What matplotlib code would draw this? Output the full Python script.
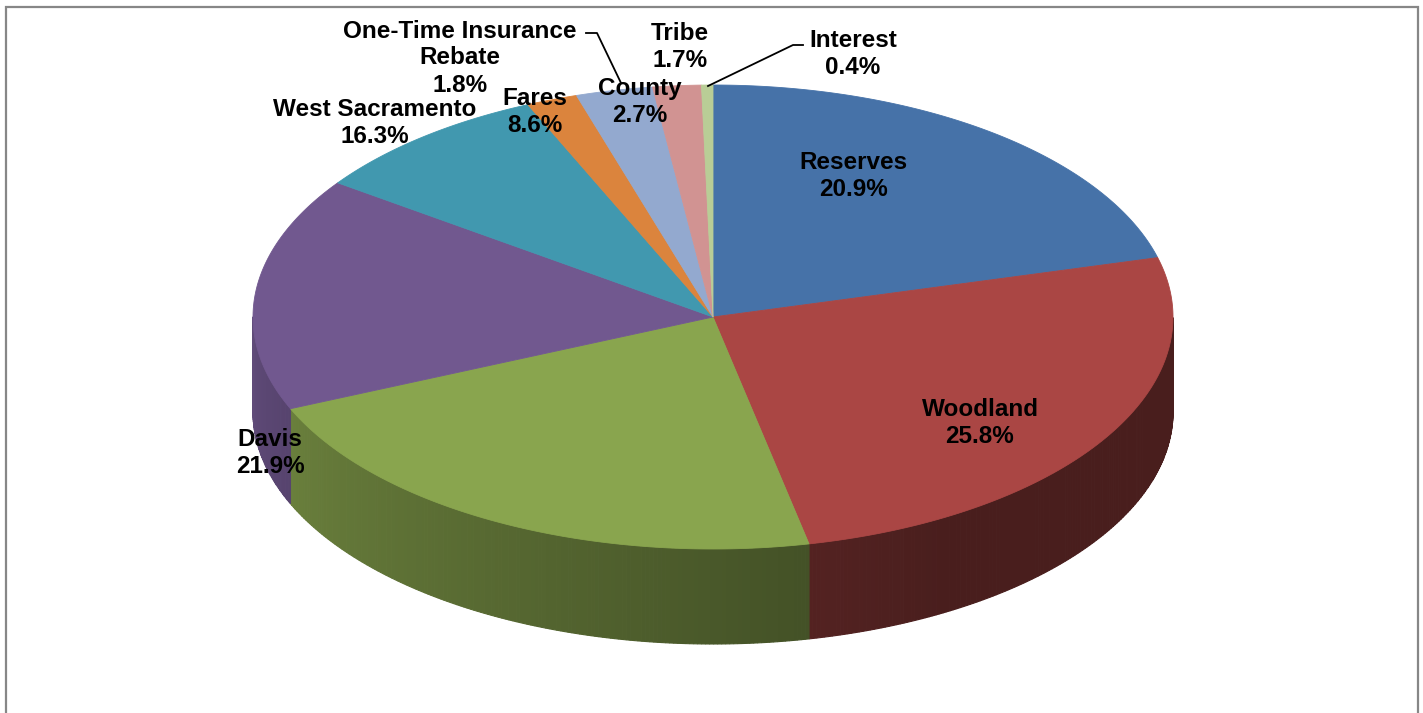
import numpy as np
import matplotlib
matplotlib.use("Agg")
import matplotlib.pyplot as plt
from matplotlib.patches import Polygon
from matplotlib.colors import to_rgb

# ---- data ----
categories = ["Reserves", "Woodland", "Davis", "West Sacramento", "Fares",
              "One-Time Insurance\nRebate", "County", "Tribe", "Interest"]
shares = [20.9, 25.8, 21.9, 16.3, 8.6, 1.8, 2.7, 1.7, 0.4]
pct_labels = ["20.9%", "25.8%", "21.9%", "16.3%", "8.6%", "1.8%", "2.7%", "1.7%", "0.4%"]

# ---- style ----
colors = ["#4672A8", "#AA4644", "#89A54E", "#71588F", "#4198AF",
          "#DB843D", "#93A9CF", "#D19392", "#B9CD96"]
label_pos = [(853, 176), (980, 423), (270, 453), (375, 123), (535, 112),
             (460, 58), (640, 102), (680, 47), (853, 54)]
line_gap = 27

W, H = 1423, 713
fig = plt.figure(figsize=(W / 100, H / 100), dpi=100)
ax = fig.add_axes([0, 0, 1, 1])
ax.set_xlim(0, W)
ax.set_ylim(H, 0)
ax.axis("off")

cx, cy, rx, ry, depth = 713, 317, 460, 232, 95

total = sum(shares)
fr = np.array(shares) / total
cum = np.concatenate([[0], np.cumsum(fr)])
a_start = 90 - 360 * cum[:-1]
a_end = 90 - 360 * cum[1:]


def pt(t_deg, dz=0.0):
    t = np.radians(t_deg)
    return cx + rx * np.cos(t), cy - ry * np.sin(t) + dz


def side_factor(t):
    tt = ((t + 180) % 360) - 180
    s = np.clip((-tt - 60) / 120.0, 0, 1)
    return 0.43 + 0.42 * s


# side walls (front half only)
for i in range(len(shares)):
    a0, a1 = a_start[i], a_end[i]
    ts = np.linspace(a0, a1, max(4, int(abs(a1 - a0) * 2) + 2))
    base = np.array(to_rgb(colors[i]))
    for j in range(len(ts) - 1):
        t0, t1 = ts[j], ts[j + 1]
        tm = 0.5 * (t0 + t1)
        if np.sin(np.radians(tm)) >= 0:
            continue
        seg = np.linspace(t0, t1, 3)
        top = [pt(t) for t in seg]
        bot = [pt(t, depth) for t in seg[::-1]]
        c = np.clip(base * side_factor(tm), 0, 1)
        ax.add_patch(Polygon(top + bot, closed=True, facecolor=c,
                             edgecolor=c, lw=0.8, zorder=1))

# top faces
for i in range(len(shares)):
    a0, a1 = a_start[i], a_end[i]
    ts = np.linspace(a0, a1, max(3, int(abs(a1 - a0) * 2) + 2))
    poly = [(cx, cy)] + [pt(t) for t in ts]
    ax.add_patch(Polygon(poly, closed=True, facecolor=colors[i],
                         edgecolor=colors[i], lw=0.6, zorder=3))

# labels (one text per line)
font = dict(family=["Liberation Sans", "DejaVu Sans"], fontsize=17.5,
            fontweight="bold", color="black", ha="center", va="center",
            zorder=6)
for i, name in enumerate(categories):
    x, y = label_pos[i]
    lines = name.split("\n") + [pct_labels[i]]
    n = len(lines)
    for k, ln in enumerate(lines):
        ax.text(x, y + (k - (n - 1) / 2) * line_gap, ln, **font)

# leader lines
ax.plot([586, 597, 621], [33, 33, 83], color="black", lw=1.3, zorder=5)
ax.plot([803, 793, 708], [45, 45, 86], color="black", lw=1.3, zorder=5)

# chart frame
ax.plot([6, 6, 1418, 1418], [H + 5, 7, 7, H + 5], color="#878787",
        lw=1.6, zorder=7, solid_joinstyle="miter")

fig.savefig("out.png", dpi=100, facecolor="white")
